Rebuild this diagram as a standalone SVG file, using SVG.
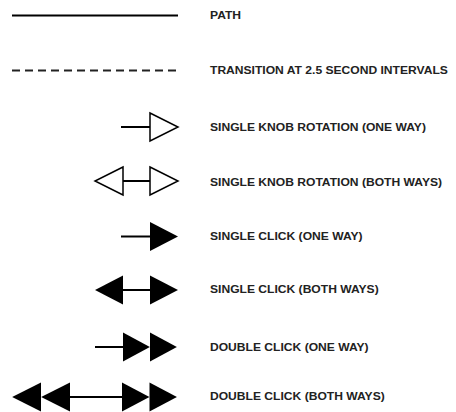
<svg xmlns="http://www.w3.org/2000/svg" xmlns:xlink="http://www.w3.org/1999/xlink" width="456" height="412" viewBox="0 0 456 412">
  <style>
    .bg { fill: #ffffff; }
    .line { stroke: #000; stroke-width: 2; fill: none; }
    .dash { stroke: #222; stroke-width: 2; stroke-dasharray: 8 5; fill: none; }
    .label { font-family: "Liberation Sans", Arial, sans-serif; font-weight: bold; font-size: 10.8px; fill: #222; }
  </style>
  <defs>
    <!-- arrowheads, base at x=0, pointing right -->
    <polygon id="open-head" points="0,-14 28,0 0,14" fill="#fff" stroke="#000" stroke-width="1.5" stroke-linejoin="miter"/>
    <polygon id="solid-head" points="0,-14.5 28,0 0,14.5" fill="#000"/>
  </defs>
  <rect class="bg" width="456" height="412"/>

  <!-- labels are set in a slightly extended face: x scaled by 1.12 -->
  <g id="path-row">
    <line class="line" x1="12" y1="15.5" x2="178" y2="15.5"/>
    <text class="label" transform="matrix(1.12 0 0 1 210 18.5)">PATH</text>
  </g>

  <g id="transition-row">
    <line class="dash" x1="12" y1="70.5" x2="178" y2="70.5"/>
    <text class="label" transform="matrix(1.12 0 0 1 210 74)">TRANSITION AT 2.5 SECOND INTERVALS</text>
  </g>

  <g id="knob-one-way">
    <line class="line" x1="121" y1="127" x2="150" y2="127"/>
    <use xlink:href="#open-head" transform="translate(150,127)"/>
    <text class="label" transform="matrix(1.12 0 0 1 210 130.5)">SINGLE KNOB ROTATION (ONE WAY)</text>
  </g>

  <g id="knob-both-ways">
    <line class="line" x1="123" y1="181" x2="150" y2="181"/>
    <use xlink:href="#open-head" transform="translate(150,181)"/>
    <use xlink:href="#open-head" transform="translate(123,181) scale(-1,1)"/>
    <text class="label" transform="matrix(1.12 0 0 1 210 185.5)">SINGLE KNOB ROTATION (BOTH WAYS)</text>
  </g>

  <g id="click-one-way">
    <line class="line" x1="121" y1="236.5" x2="150" y2="236.5"/>
    <use xlink:href="#solid-head" transform="translate(150,236.5)"/>
    <text class="label" transform="matrix(1.12 0 0 1 210 239.5)">SINGLE CLICK (ONE WAY)</text>
  </g>

  <g id="click-both-ways">
    <line class="line" x1="123" y1="290" x2="150" y2="290"/>
    <use xlink:href="#solid-head" transform="translate(150,290)"/>
    <use xlink:href="#solid-head" transform="translate(123,290) scale(-1,1)"/>
    <text class="label" transform="matrix(1.12 0 0 1 210 293)">SINGLE CLICK (BOTH WAYS)</text>
  </g>

  <g id="double-click-one-way">
    <line class="line" x1="95" y1="347" x2="124" y2="347"/>
    <use xlink:href="#solid-head" transform="translate(123,347) scale(0.96,1)"/>
    <use xlink:href="#solid-head" transform="translate(150,347) scale(0.96,1)"/>
    <text class="label" transform="matrix(1.12 0 0 1 210 350.5)">DOUBLE CLICK (ONE WAY)</text>
  </g>

  <g id="double-click-both-ways">
    <line class="line" x1="69" y1="397" x2="123" y2="397"/>
    <use xlink:href="#solid-head" transform="translate(122,397) scale(0.98,1)"/>
    <use xlink:href="#solid-head" transform="translate(149.5,397) scale(0.98,1)"/>
    <use xlink:href="#solid-head" transform="translate(41,397) scale(-1.03,1)"/>
    <use xlink:href="#solid-head" transform="translate(70,397) scale(-1.03,1)"/>
    <text class="label" transform="matrix(1.12 0 0 1 210 400)">DOUBLE CLICK (BOTH WAYS)</text>
  </g>
</svg>
